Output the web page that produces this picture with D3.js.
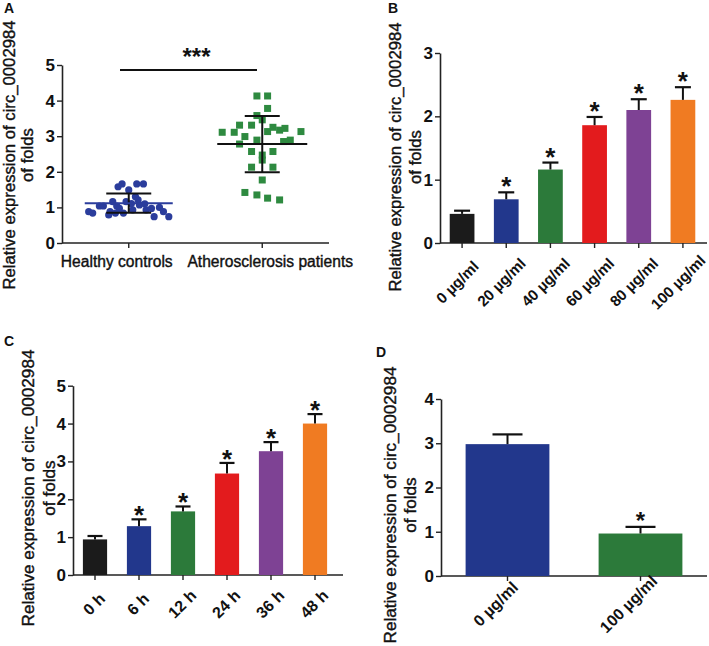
<!DOCTYPE html>
<html><head><meta charset="utf-8">
<script src="https://cdn.jsdelivr.net/npm/d3@7"></script>
<style>
body{margin:0;background:#fff}
svg text{font-family:"Liberation Sans",Arial,Helvetica,sans-serif;fill:#111}
</style>
</head><body><svg id="c" width="709" height="646"></svg>
<script>
// ---------- DATA ----------
const scatterCategories = ["Healthy controls", "Atherosclerosis patients"];
const healthyValues = [0.88,0.84,1.04,1.04,0.88,1.16,1.04,1.58,1.66,1.49,1.66,1.66,1.30,0.97,0.84,1.11,0.93,1.07,1.10,0.93,0.97,0.74,1.00,0.88,0.74,0.79,0.84,1.16,1.21];
const healthyJitter = [-0.30,-0.27,-0.22,-0.19,-0.14,-0.12,-0.09,-0.08,-0.05,0.00,0.06,0.11,0.05,-0.07,-0.04,0.02,0.03,0.08,0.12,0.13,0.17,0.19,0.23,0.26,0.30,-0.15,-0.10,-0.02,0.07];
const patientValues = [4.13,4.13,3.78,3.58,3.46,3.11,3.11,3.31,3.31,2.99,2.78,2.89,3.13,3.25,3.17,3.22,3.13,2.85,2.89,2.57,2.57,2.47,2.33,2.13,2.13,1.77,1.42,1.35,1.26,1.21];
const patientJitter = [-0.04,0.04,0.04,-0.04,0.00,-0.30,-0.21,-0.17,-0.08,-0.13,-0.17,-0.04,0.04,0.08,0.13,0.17,0.29,0.16,0.21,-0.08,0.08,0.00,0.00,-0.08,0.08,0.00,-0.13,-0.04,0.04,0.13];
const scatterMeans = [1.12, 2.78];
const scatterSD = [0.27, 0.79];
const scatterTicks = [0,1,2,3,4,5];
const scatterSignif = "***";

const doseCategories = ["0 µg/ml","20 µg/ml","40 µg/ml","60 µg/ml","80 µg/ml","100 µg/ml"];
const doseMeans = [0.46,0.69,1.16,1.86,2.10,2.26];
const doseErrors = [0.05,0.11,0.11,0.13,0.17,0.20];
const doseSignif = ["","*","*","*","*","*"];
const doseTicks = [0,1,2,3];

const timeCategories = ["0 h","6 h","12 h","24 h","36 h","48 h"];
const timeMeans = [0.94,1.29,1.68,2.68,3.27,4.00];
const timeErrors = [0.09,0.18,0.13,0.28,0.24,0.25];
const timeSignif = ["","*","*","*","*","*"];
const timeTicks = [0,1,2,3,4,5];

const treatCategories = ["0 µg/ml","100 µg/ml"];
const treatMeans = [2.98,0.96];
const treatErrors = [0.22,0.15];
const treatSignif = ["","*"];
const treatTicks = [0,1,2,3,4];

const yTitle1 = "Relative expression of circ_0002984";
const yTitle2 = "of folds";
const panelLetters = ["A","B","C","D"];

// ---------- STYLE / LAYOUT ----------
const sixColors = ["#1b1b1b","#22378c","#2c7a3a","#e31b1d","#7e4294","#f07b22"];
const twoColors = ["#22378c","#2c7a3a"];
const scatterBlue = "#2b3d9c", scatterGreen = "#2e8a40";
const axisColor = "#222";

const svg = d3.select("#c");
svg.append("rect").attr("width",709).attr("height",646).attr("fill","#fff");

function heavy(sel){ return sel.attr("stroke","#111").attr("stroke-width",0.4); }

function yTitle(x1, x2, yc, size){
  const g = svg.append("g");
  heavy(g.append("text").attr("transform",`translate(${x1},${yc}) rotate(-90)`)
    .attr("text-anchor","middle").attr("font-size",size).text(yTitle1));
  heavy(g.append("text").attr("transform",`translate(${x2},${yc}) rotate(-90)`)
    .attr("text-anchor","middle").attr("font-size",size).text(yTitle2));
}

function drawYAxis(y, ticks, x, tsize){
  const g = svg.append("g").attr("transform",`translate(${x},0)`)
    .call(d3.axisLeft(y).tickValues(ticks).tickSize(5).tickSizeOuter(0).tickPadding(2).tickFormat(d3.format("d")));
  g.select(".domain").attr("stroke",axisColor).attr("stroke-width",1.6);
  g.selectAll(".tick line").attr("stroke",axisColor).attr("stroke-width",1.4);
  g.selectAll(".tick text").attr("font-size",tsize).attr("font-weight","bold").attr("fill","#111")
    .style("font-family","'Liberation Sans',Arial,sans-serif");
  return g;
}

function drawXAxis(x, y0, xStart, xEnd){
  svg.append("line").attr("x1",xStart).attr("x2",xEnd).attr("y1",y0).attr("y2",y0)
    .attr("stroke",axisColor).attr("stroke-width",1.6);
  const g = svg.append("g").attr("transform",`translate(0,${y0})`)
    .call(d3.axisBottom(x).tickSize(5).tickSizeOuter(0).tickFormat(""));
  g.select(".domain").remove();
  g.selectAll(".tick line").attr("stroke",axisColor).attr("stroke-width",1.4);
}

function letter(t, x, y){
  svg.append("text").attr("x",x).attr("y",y).attr("font-size",14).attr("font-weight","bold").text(t);
}

// ---------- PANEL A (scatter) ----------
(function(){
  const x = d3.scaleBand().domain(scatterCategories).range([62,329]).padding(0);
  const y = d3.scaleLinear().domain([0,5]).range([243,65]);
  const cx = (cat, j) => x(cat) + x.bandwidth()/2 + j*x.bandwidth();
  drawXAxis(x, 243, 62, 329);
  drawYAxis(y, scatterTicks, 62, 17);
  svg.append("g").selectAll("circle").data(healthyValues).join("circle")
    .attr("cx",(d,i)=>cx(scatterCategories[0],healthyJitter[i])).attr("cy",d=>y(d))
    .attr("r",3.6).attr("fill",scatterBlue);
  const s = 7;
  svg.append("g").selectAll("rect").data(patientValues).join("rect")
    .attr("x",(d,i)=>cx(scatterCategories[1],patientJitter[i])-s/2).attr("y",d=>y(d)-s/2)
    .attr("width",s).attr("height",s).attr("fill",scatterGreen);
  const meanW = [88, 90], capW = [45, 35], meanCol = [scatterBlue, "#111"];
  scatterCategories.forEach((c,i)=>{
    const xc = x(c)+x.bandwidth()/2;
    const g = svg.append("g").attr("stroke","#111").attr("stroke-width",2);
    g.append("line").attr("x1",xc).attr("x2",xc).attr("y1",y(scatterMeans[i]-scatterSD[i])).attr("y2",y(scatterMeans[i]+scatterSD[i]));
    [scatterMeans[i]-scatterSD[i], scatterMeans[i]+scatterSD[i]].forEach(v=>{
      g.append("line").attr("x1",xc-capW[i]/2).attr("x2",xc+capW[i]/2).attr("y1",y(v)).attr("y2",y(v));
    });
    g.append("line").attr("x1",xc-meanW[i]/2).attr("x2",xc+meanW[i]/2).attr("y1",y(scatterMeans[i])).attr("y2",y(scatterMeans[i]))
      .attr("stroke",meanCol[i]);
  });
  const labelShift = [-12, 8];
  scatterCategories.forEach((c,i)=>{
    heavy(svg.append("text").attr("x",x(c)+x.bandwidth()/2+labelShift[i]).attr("y",267).attr("text-anchor","middle")
      .attr("font-size",15.6).text(c));
  });
  svg.append("line").attr("x1",120).attr("x2",257).attr("y1",70).attr("y2",70).attr("stroke","#111").attr("stroke-width",2);
  svg.append("text").attr("x",(120+257)/2+8).attr("y",65).attr("text-anchor","middle").attr("font-size",24)
    .attr("font-weight","bold").text(scatterSignif);
  yTitle(15, 33, 155, 16.7);
  letter(panelLetters[0], 4, 13);
})();

// ---------- generic bar panel ----------
function barPanel(o){
  const x = d3.scaleBand().domain(o.cats).range(o.xr).paddingInner(o.pad).paddingOuter(o.pad/2);
  const y = d3.scaleLinear().domain(o.ydom).range([o.y0,o.ytop]);
  drawXAxis(x, o.y0, o.xr[0], o.xEnd);
  drawYAxis(y, o.ticks, o.xr[0], 17);
  const g = svg.append("g");
  g.selectAll("rect").data(o.means).join("rect")
    .attr("x",(d,i)=>x(o.cats[i])).attr("y",d=>y(d)).attr("width",x.bandwidth())
    .attr("height",d=>o.y0-y(d)).attr("fill",(d,i)=>o.colors[i]);
  o.means.forEach((m,i)=>{
    const xc = x(o.cats[i])+x.bandwidth()/2;
    const top = y(m+o.errs[i]);
    g.append("line").attr("x1",xc).attr("x2",xc).attr("y1",y(m)).attr("y2",top).attr("stroke","#111").attr("stroke-width",2);
    g.append("line").attr("x1",xc-o.cap/2).attr("x2",xc+o.cap/2).attr("y1",top).attr("y2",top).attr("stroke","#111").attr("stroke-width",2.2);
    if(o.sig[i]) g.append("text").attr("x",xc).attr("y",top+o.starDy).attr("text-anchor","middle")
      .attr("font-size",o.starSize).attr("font-weight","bold").text(o.sig[i]);
    g.append("text").attr("transform",`translate(${xc+o.ldx},${o.y0+o.ldy}) rotate(-45)`)
      .attr("text-anchor","middle").attr("font-size",o.lsize).attr("font-weight","bold").text(o.cats[i]);
  });
}

// ---------- PANEL B ----------
barPanel({cats:doseCategories, means:doseMeans, errs:doseErrors, sig:doseSignif, ticks:doseTicks,
  ydom:[0,3], xr:[440,705], xEnd:707, y0:243, ytop:53, pad:0.44, cap:16, colors:sixColors,
  starDy:3, starSize:26, ldx:-1, ldy:43, lsize:15.2});
yTitle(401, 421, 157, 16.7);
letter(panelLetters[1], 388, 13);

// ---------- PANEL C ----------
barPanel({cats:timeCategories, means:timeMeans, errs:timeErrors, sig:timeSignif, ticks:timeTicks,
  ydom:[0,5], xr:[73,337], xEnd:343, y0:575, ytop:385.7, pad:0.45, cap:15, colors:sixColors,
  starDy:5, starSize:26, ldx:3, ldy:33, lsize:16});
yTitle(34, 55, 488, 17.2);
letter(panelLetters[2], 4, 346);

// ---------- PANEL D ----------
barPanel({cats:treatCategories, means:treatMeans, errs:treatErrors, sig:treatSignif, ticks:treatTicks,
  ydom:[0,4], xr:[441,707], xEnd:707, y0:576, ytop:399, pad:0.37, cap:30, colors:twoColors,
  starDy:2, starSize:24, ldx:-8, ldy:32, lsize:16});
yTitle(396, 416, 505, 17.2);
letter(panelLetters[3], 376, 357);
</script></body></html>
